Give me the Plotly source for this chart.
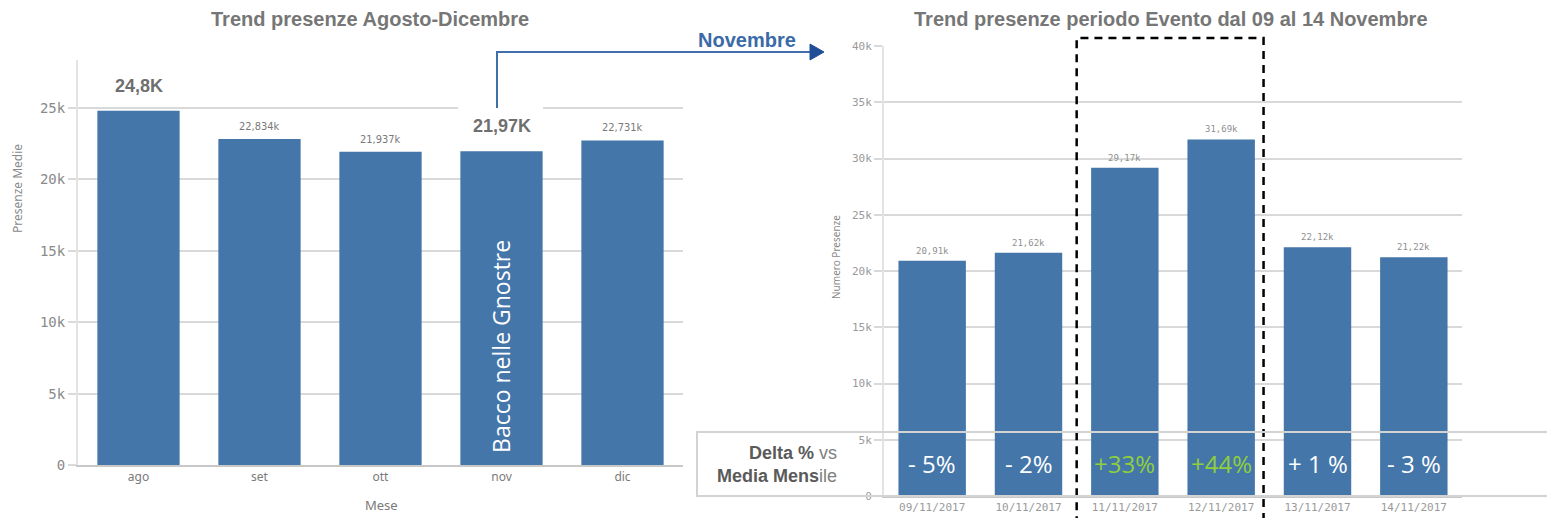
import plotly.graph_objects as go

W, H = 1547, 518

# ---------------- data ----------------
months = ["ago", "set", "ott", "nov", "dic"]
month_values = [24800, 22834, 21937, 21970, 22731]
month_labels = ["24,8K", "22,834k", "21,937k", "21,97K", "22,731k"]
highlight_months = ["ago", "nov"]

days = ["09/11/2017", "10/11/2017", "11/11/2017", "12/11/2017", "13/11/2017", "14/11/2017"]
day_values = [20910, 21620, 29170, 31690, 22120, 21220]
day_labels = ["20,91k", "21,62k", "29,17k", "31,69k", "22,12k", "21,22k"]
delta_labels = ["- 5%", "- 2%", "+33%", "+44%", "+ 1 %", "- 3 %"]
event_days = ["11/11/2017", "12/11/2017"]

title_left = "Trend presenze Agosto-Dicembre"
title_right = "Trend presenze periodo Evento dal 09 al 14 Novembre"
event_name = "Bacco nelle Gnostre"

# ---------------- style ----------------
BAR = "#4476aa"
GRID = "#d9d9d9"
TICKC = "#8a8a8a"
TITLEC = "#767676"
GREEN = "#8fcf3c"
ARROW = "#3f6ea8"


def px(x):
    return x / W


def py(y):
    return 1 - y / H


def paper_text(x, y, text, font, **kw):
    d = dict(x=px(x), y=py(y), xref="paper", yref="paper", text=text, showarrow=False,
             xanchor="center", yanchor="middle", font=font)
    d.update(kw)
    return d


fig = go.Figure()
fig.add_trace(go.Bar(x=months, y=month_values, marker=dict(color=BAR, line=dict(width=0)),
                     width=0.68, xaxis="x", yaxis="y", hoverinfo="skip"))
fig.add_trace(go.Bar(x=days, y=day_values, marker=dict(color=BAR, line=dict(width=0)),
                     width=0.7, xaxis="x2", yaxis="y2", hoverinfo="skip"))

ann = []
# left value labels
for m, v, t in zip(months, month_values, month_labels):
    big = m in highlight_months
    ann.append(dict(x=m, y=v, xref="x", yref="y", text=f"<b>{t}</b>" if big else t,
                    showarrow=False, xanchor="center", yanchor="bottom", yshift=13 if big else 4,
                    font=dict(size=18 if big else 11, color="#6f6f6f" if big else "#7a7a7a",
                              family="Liberation Sans" if big else "DejaVu Sans Condensed")))
# event name in nov bar
ann.append(dict(x="nov", y=8300, xref="x", yref="y", text=event_name, textangle=-90,
                xanchor="center", yanchor="middle",
                showarrow=False, font=dict(size=23, color="white", family="Open Sans")))
# right value labels
for d, v, t in zip(days, day_values, day_labels):
    ann.append(dict(x=d, y=v, xref="x2", yref="y2", text=t, showarrow=False,
                    xanchor="center", yanchor="bottom", yshift=3,
                    font=dict(size=9, color="#8f8f8f", family="DejaVu Sans Mono")))
# delta labels
for d, t in zip(days, delta_labels):
    ann.append(dict(x=d, y=2850, xref="x2", yref="y2", text=t, showarrow=False,
                    xanchor="center", yanchor="middle",
                    font=dict(size=24, color=GREEN if d in event_days else "white",
                              family="Open Sans")))

# titles and axis titles
ann += [
    paper_text(370, 19, f"<b>{title_left}</b>",
               dict(size=20, color=TITLEC, family="Liberation Sans")),
    paper_text(1171, 19, f"<b>{title_right}</b>",
               dict(size=20, color=TITLEC, family="Liberation Sans")),
    paper_text(17, 189, "Presenze Medie", dict(size=12, color="#8a8a8a", family="Noto Sans"),
               textangle=-90),
    paper_text(381, 505, "Mese", dict(size=13, color="#7a7a7a", family="Noto Sans")),
    paper_text(836, 257, "Numero Presenze", dict(size=10, color="#8a8a8a", family="Noto Sans"),
               textangle=-90),
    paper_text(747, 40, "<b>Novembre</b>", dict(size=20, color="#3a6aa8", family="Liberation Sans")),
    paper_text(839, 464,
               "<b>Delta %</b><span style='color:#808080'> vs</span><br><b>Media Mens</b><span style='color:#808080'>ile</span>",
               dict(size=18, color="#5a5a5a", family="Liberation Sans"),
               xanchor="right", align="right"),
]

shapes = [
    # white patch over 25k gridline above nov bar
    dict(type="rect", xref="paper", yref="paper", x0=px(458), x1=px(543), y0=py(111), y1=py(105),
         fillcolor="white", line=dict(width=0), layer="above"),
    # connector line
    dict(type="path", xref="paper", yref="paper",
         path=f"M {px(497)},{py(108)} L {px(497)},{py(52)} L {px(812)},{py(52)}",
         line=dict(color=ARROW, width=2)),
    dict(type="path", xref="paper", yref="paper",
         path=f"M {px(810)},{py(44)} L {px(824)},{py(52)} L {px(810)},{py(60)} Z",
         fillcolor="#1f4e96", line=dict(color="#1f4e96", width=1)),
    # dashed event box
    dict(type="rect", xref="x2", yref="paper", x0=1.5, x1=3.44, y0=py(530), y1=py(38),
         line=dict(color="black", width=2.5, dash="8px,6px"), layer="above"),
    # delta box
    dict(type="rect", xref="paper", yref="paper", x0=px(697), x1=px(1560), y0=py(496), y1=py(432),
         line=dict(color="#d3d3d3", width=2), layer="above"),
]

tickfont_l = dict(size=14, color=TICKC, family="DejaVu Sans Mono")
tickfont_r = dict(size=11, color="#9a9a9a", family="DejaVu Sans Mono")

fig.update_layout(
    width=W, height=H, margin=dict(l=0, r=0, t=0, b=0, autoexpand=False),
    paper_bgcolor="white", plot_bgcolor="white", showlegend=False,
    annotations=ann, shapes=shapes,
    xaxis=dict(domain=[px(78), px(683)], type="category", showline=True, linecolor="#c8c8c8",
               linewidth=2, ticks="", tickfont=dict(size=12, color="#7a7a7a", family="Noto Sans"),
               automargin=False),
    yaxis=dict(domain=[py(465), py(60)], range=[0, 28360], dtick=5000, tickformat="~s",
               showgrid=True, gridcolor=GRID, gridwidth=2, zeroline=False,
               showline=True, linecolor="#e3e3e3", linewidth=2, automargin=False,
               ticks="outside", ticklen=8, tickcolor=GRID, tickwidth=2, tickfont=tickfont_l),
    xaxis2=dict(domain=[px(884), px(1462)], type="category", anchor="y2", showline=True,
                linecolor="#c8c8c8", linewidth=2, ticks="", tickfont=tickfont_r, automargin=False),
    yaxis2=dict(domain=[py(496), py(46)], range=[0, 40000], dtick=5000, tickformat="~s",
                anchor="x2", showgrid=True, gridcolor=GRID, gridwidth=2, zeroline=False,
                showline=True, linecolor="#e3e3e3", linewidth=2, automargin=False,
                ticks="outside", ticklen=8, tickcolor=GRID, tickwidth=2, tickfont=tickfont_r),
    bargap=0.3,
)

fig.write_html("out.html", config={"displayModeBar": False},
               post_script="document.body.style.margin='0';")
